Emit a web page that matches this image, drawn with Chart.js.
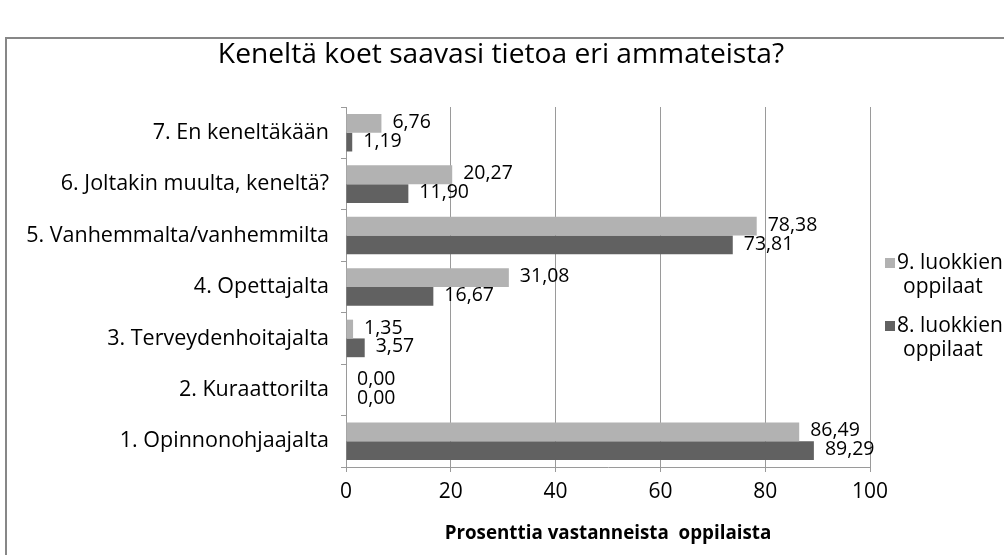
<!DOCTYPE html>
<html>
<head>
<meta charset="utf-8">
<script src="https://cdn.jsdelivr.net/npm/chart.js@4/dist/chart.umd.min.js"></script>
<style>
  html, body { margin: 0; padding: 0; background: #fff; overflow: hidden; }
  #wrap { width: 1004px; height: 555px; }
</style>
</head>
<body>
<div id="wrap"><canvas id="c" width="1004" height="555"></canvas></div>
<script>
const categories = [
  '7. En keneltäkään',
  '6. Joltakin muulta, keneltä?',
  '5. Vanhemmalta/vanhemmilta',
  '4. Opettajalta',
  '3. Terveydenhoitajalta',
  '2. Kuraattorilta',
  '1. Opinnonohjaajalta'
];
const grade9 = [6.76, 20.27, 78.38, 31.08, 1.35, 0.00, 86.49];
const grade8 = [1.19, 11.90, 73.81, 16.67, 3.57, 0.00, 89.29];
const seriesNames = [['9. luokkien', 'oppilaat'], ['8. luokkien', 'oppilaat']];
const xTicks = [0, 20, 40, 60, 80, 100];
const titleText = 'Keneltä koet saavasi tietoa eri ammateista?';
const xTitle = 'Prosenttia vastanneista  oppilaista';

const FONT = "'Open Sans', 'DejaVu Sans', sans-serif";
const colors = ['#b2b2b2', '#616161'];

const framePlugin = {
  id: 'frame',
  beforeDraw(chart) {
    const ctx = chart.ctx;
    ctx.save();
    ctx.fillStyle = '#fff';
    ctx.fillRect(0, 0, chart.width, chart.height);
    ctx.strokeStyle = '#878787';
    ctx.lineWidth = 2;
    ctx.strokeRect(6, 38, 2000, 2000);
    ctx.fillStyle = '#000';
    ctx.font = '28.2px ' + FONT;
    ctx.textAlign = 'center';
    ctx.textBaseline = 'alphabetic';
    ctx.fillText(titleText, 501, 63);
    ctx.restore();
  }
};

const valueLabels = {
  id: 'valueLabels',
  afterDatasetsDraw(chart) {
    const ctx = chart.ctx;
    ctx.save();
    ctx.font = '19.5px ' + FONT;
    ctx.fillStyle = '#000';
    ctx.textBaseline = 'middle';
    ctx.textAlign = 'left';
    chart.data.datasets.forEach((ds, i) => {
      const meta = chart.getDatasetMeta(i);
      meta.data.forEach((el, j) => {
        const v = ds.data[j];
        ctx.fillText(v.toFixed(2).replace('.', ','), el.x + 11, el.y - 1);
      });
    });
    ctx.restore();
  }
};

const sideLegend = {
  id: 'sideLegend',
  afterDraw(chart) {
    const ctx = chart.ctx;
    ctx.save();
    ctx.font = '21px ' + FONT;
    ctx.textBaseline = 'middle';
    ctx.textAlign = 'left';
    const tops = [263, 326];
    chart.data.datasets.forEach((ds, i) => {
      const y = tops[i];
      ctx.fillStyle = ds.backgroundColor;
      ctx.fillRect(885, y - 5, 10, 10);
      ctx.fillStyle = '#000';
      ctx.fillText(seriesNames[i][0], 897, y);
      ctx.fillText(seriesNames[i][1], 903, y + 24);
    });
    ctx.restore();
  }
};

new Chart(document.getElementById('c'), {
  type: 'bar',
  data: {
    labels: categories,
    datasets: [
      { label: seriesNames[0].join(' '), data: grade9, backgroundColor: colors[0] },
      { label: seriesNames[1].join(' '), data: grade8, backgroundColor: colors[1] }
    ]
  },
  options: {
    indexAxis: 'y',
    responsive: false,
    animation: false,
    devicePixelRatio: 1,
    layout: { padding: { left: 0, right: 134, top: 107, bottom: 0 } },
    datasets: { bar: { categoryPercentage: 0.73, barPercentage: 1.0, borderWidth: 0 } },
    plugins: {
      legend: { display: false },
      tooltip: { enabled: false },
      title: { display: false }
    },
    scales: {
      x: {
        min: 0, max: 100,
        afterBuildTicks(scale) { scale.ticks = xTicks.map(v => ({ value: v })); },
        afterFit(scale) { scale.height = 88; },
        grid: { color: '#9a9a9a', lineWidth: 1, tickLength: 5, drawTicks: true },
        border: { color: '#9a9a9a' },
        ticks: { color: '#000', font: { family: FONT, size: 21 }, padding: 7 },
        title: {
          display: true, text: xTitle, color: '#000',
          font: { family: FONT, size: 18.8, weight: 'bold', lineHeight: 1.2 },
          padding: { top: 0, bottom: 10 }
        }
      },
      y: {
        afterFit(scale) { scale.width = 346; },
        grid: { drawOnChartArea: false, color: '#9a9a9a', tickLength: 5, offset: true },
        border: { color: '#9a9a9a' },
        ticks: { color: '#000', font: { family: FONT, size: 21.5 }, padding: 12 }
      }
    }
  },
  plugins: [framePlugin, valueLabels, sideLegend]
});
</script>
</body>
</html>
